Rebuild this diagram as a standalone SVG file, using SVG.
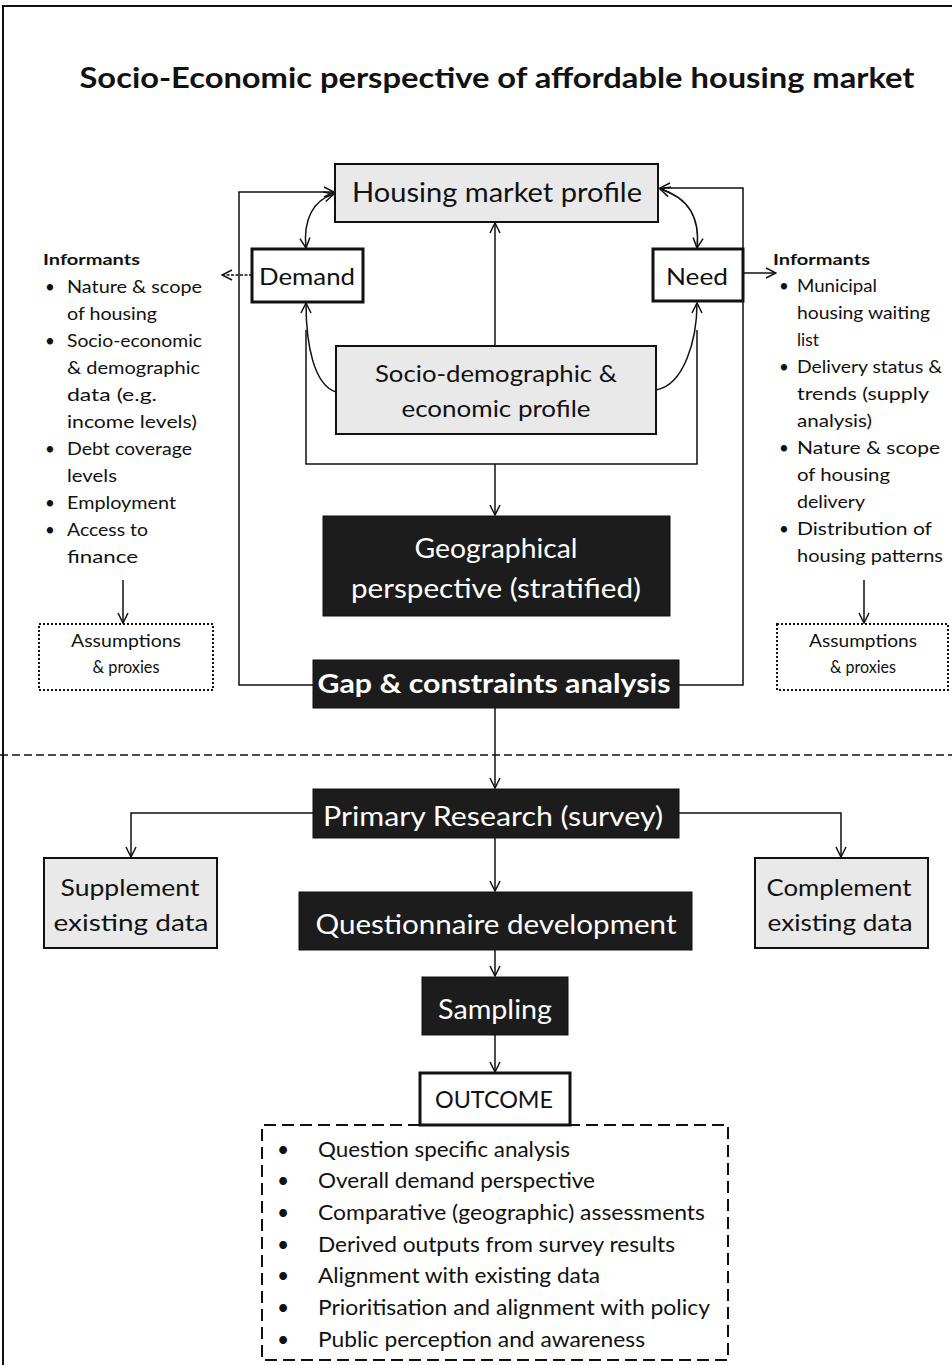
<svg xmlns="http://www.w3.org/2000/svg" width="952" height="1365" viewBox="0 0 952 1365">
<style>
text{font-family:Lato,"Open Sans","Liberation Sans",sans-serif;fill:#111}
.t{font-size:28px;font-weight:bold}
.big{font-size:27px}
.mid{font-size:24px}
.w{fill:#fff}
.inf{font-size:17px}
.infb{font-size:16px;font-weight:bold}
.out{font-size:21px}
.light{fill:#e9e9e9;stroke:#111;stroke-width:2}
.thick{fill:#fff;stroke:#111;stroke-width:3}
.dark{fill:#1c1c1c;stroke:#111;stroke-width:1}
.dot{fill:#fff;stroke:#111;stroke-width:2;stroke-dasharray:2 2}
.c{fill:none;stroke:#111;stroke-width:1.5}
</style>
<defs>
<marker id="a" viewBox="0 0 12 12" refX="11" refY="6" markerWidth="12" markerHeight="12" orient="auto-start-reverse" markerUnits="userSpaceOnUse">
<path d="M1,1 L11,6 L1,11" fill="none" stroke="#111" stroke-width="1.5"/>
</marker>
</defs>
<rect width="952" height="1365" fill="#fff"/>
<g id="frame" fill="none" stroke="#111">
<path d="M3 1365 V6 H952" stroke-width="2"/>
<path d="M0 755 H952" stroke-width="1.5" stroke-dasharray="8 4"/>
</g>
<g id="title"><text class="t" x="497" y="88" text-anchor="middle" textLength="835" lengthAdjust="spacingAndGlyphs">Socio-Economic perspective of affordable housing market</text></g>

<g id="connectors" class="c">
<path d="M313 685 H239 V192 H334" marker-end="url(#a)"/>
<path d="M679 685 H743 V188 H660" marker-end="url(#a)"/>
<path d="M306 248 C303 220 313 200 334 194" marker-start="url(#a)" marker-end="url(#a)"/>
<path d="M697 248 C700 220 690 198 660 189" marker-start="url(#a)" marker-end="url(#a)"/>
<path d="M336 392 C314 385 306 345 306 303" marker-end="url(#a)"/>
<path d="M656 390 C684 385 697 340 697 303" marker-end="url(#a)"/>
<path d="M306 330 V464 H697 V330"/>
<path d="M495 346 V223" marker-end="url(#a)"/>
<path d="M495 464 V515" marker-end="url(#a)"/>
<path d="M252 275 H222" stroke-dasharray="3 1.5" marker-end="url(#a)"/>
<path d="M743 273 H776" marker-end="url(#a)"/>
<path d="M123 580 V623" marker-end="url(#a)"/>
<path d="M864 580 V623" marker-end="url(#a)"/>
<path d="M495 708 V788" marker-end="url(#a)"/>
<path d="M313 813 H131 V857" marker-end="url(#a)"/>
<path d="M679 813 H841 V857" marker-end="url(#a)"/>
<path d="M495 838 V891" marker-end="url(#a)"/>
<path d="M495 950 V976" marker-end="url(#a)"/>
<path d="M495 1035 V1072" marker-end="url(#a)"/>
</g>

<g id="housing">
<rect class="light" x="335" y="164" width="323" height="58"/>
<text class="big" x="497" y="202" text-anchor="middle" textLength="290" lengthAdjust="spacingAndGlyphs">Housing market profile</text>
</g>
<g id="demand">
<rect class="thick" x="252" y="249" width="111" height="53"/>
<text class="mid" x="307" y="285" text-anchor="middle" textLength="96" lengthAdjust="spacingAndGlyphs">Demand</text>
</g>
<g id="need">
<rect class="thick" x="653" y="249" width="90" height="52"/>
<text class="mid" x="697" y="285" text-anchor="middle" textLength="62" lengthAdjust="spacingAndGlyphs">Need</text>
</g>
<g id="socio">
<rect class="light" x="336" y="346" width="320" height="88"/>
<text class="mid" x="496" y="382" text-anchor="middle" textLength="242" lengthAdjust="spacingAndGlyphs">Socio-demographic &amp;</text>
<text class="mid" x="496" y="417" text-anchor="middle" textLength="189" lengthAdjust="spacingAndGlyphs">economic profile</text>
</g>
<g id="geo">
<rect class="dark" x="323" y="516" width="347" height="100"/>
<text class="big w" x="496" y="558" text-anchor="middle" textLength="163" lengthAdjust="spacingAndGlyphs">Geographical</text>
<text class="big w" x="496" y="598" text-anchor="middle" textLength="290" lengthAdjust="spacingAndGlyphs">perspective (stratified)</text>
</g>
<g id="gap">
<rect class="dark" x="313" y="660" width="366" height="48"/>
<text class="big w" x="494" y="693" text-anchor="middle" font-weight="bold" textLength="353" lengthAdjust="spacingAndGlyphs">Gap &amp; constraints analysis</text>
</g>

<g id="informants-left">
<text class="infb" x="43" y="265" textLength="97" lengthAdjust="spacingAndGlyphs">Informants</text>
<g class="inf">
<text x="45" y="293">•</text><text x="67" y="293" textLength="135" lengthAdjust="spacingAndGlyphs">Nature &amp; scope</text>
<text x="67" y="320" textLength="90" lengthAdjust="spacingAndGlyphs">of housing</text>
<text x="45" y="347">•</text><text x="67" y="347" textLength="135" lengthAdjust="spacingAndGlyphs">Socio-economic</text>
<text x="67" y="374" textLength="133" lengthAdjust="spacingAndGlyphs">&amp; demographic</text>
<text x="67" y="401" textLength="90" lengthAdjust="spacingAndGlyphs">data (e.g.</text>
<text x="67" y="428" textLength="130" lengthAdjust="spacingAndGlyphs">income levels)</text>
<text x="45" y="455">•</text><text x="67" y="455" textLength="125" lengthAdjust="spacingAndGlyphs">Debt coverage</text>
<text x="67" y="482" textLength="50" lengthAdjust="spacingAndGlyphs">levels</text>
<text x="45" y="509">•</text><text x="67" y="509" textLength="109" lengthAdjust="spacingAndGlyphs">Employment</text>
<text x="45" y="536">•</text><text x="67" y="536" textLength="81" lengthAdjust="spacingAndGlyphs">Access to</text>
<text x="67" y="563" textLength="71" lengthAdjust="spacingAndGlyphs">finance</text>
</g>
</g>
<g id="assump-left">
<rect class="dot" x="39" y="624" width="174" height="66"/>
<text class="inf" x="126" y="647" text-anchor="middle" textLength="110" lengthAdjust="spacingAndGlyphs">Assumptions</text>
<text class="inf" x="126" y="673" text-anchor="middle" textLength="67" lengthAdjust="spacingAndGlyphs">&amp; proxies</text>
</g>

<g id="informants-right">
<text class="infb" x="773" y="265" textLength="97" lengthAdjust="spacingAndGlyphs">Informants</text>
<g class="inf">
<text x="779" y="292">•</text><text x="797" y="292" textLength="80" lengthAdjust="spacingAndGlyphs">Municipal</text>
<text x="797" y="319" textLength="133" lengthAdjust="spacingAndGlyphs">housing waiting</text>
<text x="797" y="346" textLength="22" lengthAdjust="spacingAndGlyphs">list</text>
<text x="779" y="373">•</text><text x="797" y="373" textLength="145" lengthAdjust="spacingAndGlyphs">Delivery status &amp;</text>
<text x="797" y="400" textLength="132" lengthAdjust="spacingAndGlyphs">trends (supply</text>
<text x="797" y="427" textLength="75" lengthAdjust="spacingAndGlyphs">analysis)</text>
<text x="779" y="454">•</text><text x="797" y="454" textLength="143" lengthAdjust="spacingAndGlyphs">Nature &amp; scope</text>
<text x="797" y="481" textLength="93" lengthAdjust="spacingAndGlyphs">of housing</text>
<text x="797" y="508" textLength="68" lengthAdjust="spacingAndGlyphs">delivery</text>
<text x="779" y="535">•</text><text x="797" y="535" textLength="135" lengthAdjust="spacingAndGlyphs">Distribution of</text>
<text x="797" y="562" textLength="146" lengthAdjust="spacingAndGlyphs">housing patterns</text>
</g>
</g>
<g id="assump-right">
<rect class="dot" x="777" y="624" width="171" height="66"/>
<text class="inf" x="863" y="647" text-anchor="middle" textLength="108" lengthAdjust="spacingAndGlyphs">Assumptions</text>
<text class="inf" x="863" y="673" text-anchor="middle" textLength="66" lengthAdjust="spacingAndGlyphs">&amp; proxies</text>
</g>

<g id="primary">
<rect class="dark" x="313" y="789" width="366" height="49"/>
<text class="big w" x="493" y="826" text-anchor="middle" textLength="340" lengthAdjust="spacingAndGlyphs">Primary Research (survey)</text>
</g>
<g id="supplement">
<rect class="light" x="44" y="858" width="173" height="90"/>
<text class="mid" x="130" y="896" text-anchor="middle" textLength="139" lengthAdjust="spacingAndGlyphs">Supplement</text>
<text class="mid" x="131" y="931" text-anchor="middle" textLength="155" lengthAdjust="spacingAndGlyphs">existing data</text>
</g>
<g id="complement">
<rect class="light" x="755" y="858" width="173" height="90"/>
<text class="mid" x="839" y="896" text-anchor="middle" textLength="145" lengthAdjust="spacingAndGlyphs">Complement</text>
<text class="mid" x="840" y="931" text-anchor="middle" textLength="145" lengthAdjust="spacingAndGlyphs">existing data</text>
</g>
<g id="questionnaire">
<rect class="dark" x="299" y="892" width="393" height="58"/>
<text class="big w" x="496" y="934" text-anchor="middle" textLength="361" lengthAdjust="spacingAndGlyphs">Questionnaire development</text>
</g>
<g id="sampling">
<rect class="dark" x="422" y="977" width="146" height="58"/>
<text class="big w" x="495" y="1019" text-anchor="middle" textLength="114" lengthAdjust="spacingAndGlyphs">Sampling</text>
</g>
<g id="outcome">
<rect class="thick" x="420" y="1073" width="150" height="52"/>
<text class="mid" x="494" y="1108" text-anchor="middle" textLength="118" lengthAdjust="spacingAndGlyphs">OUTCOME</text>
</g>
<g id="outcome-list">
<path d="M420 1125 H262 V1360 H728 V1125 H570" fill="none" stroke="#111" stroke-width="2" stroke-dasharray="12 6"/>
<g class="out">
<text x="277" y="1157">•</text><text x="318" y="1157" textLength="252" lengthAdjust="spacingAndGlyphs">Question specific analysis</text>
<text x="277" y="1188">•</text><text x="318" y="1188" textLength="277" lengthAdjust="spacingAndGlyphs">Overall demand perspective</text>
<text x="277" y="1220">•</text><text x="318" y="1220" textLength="387" lengthAdjust="spacingAndGlyphs">Comparative (geographic) assessments</text>
<text x="277" y="1252">•</text><text x="318" y="1252" textLength="357" lengthAdjust="spacingAndGlyphs">Derived outputs from survey results</text>
<text x="277" y="1283">•</text><text x="318" y="1283" textLength="282" lengthAdjust="spacingAndGlyphs">Alignment with existing data</text>
<text x="277" y="1315">•</text><text x="318" y="1315" textLength="392" lengthAdjust="spacingAndGlyphs">Prioritisation and alignment with policy</text>
<text x="277" y="1347">•</text><text x="318" y="1347" textLength="327" lengthAdjust="spacingAndGlyphs">Public perception and awareness</text>
</g>
</g>
</svg>
